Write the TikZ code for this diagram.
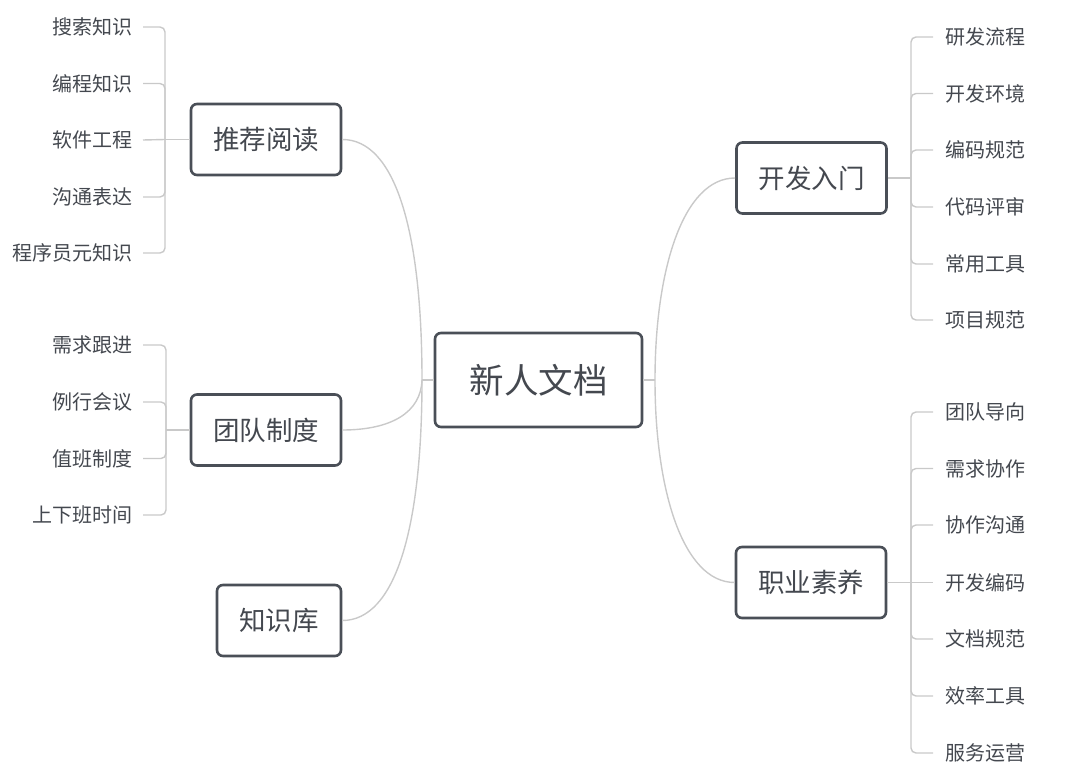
\documentclass[tikz,border=0pt]{standalone}
\usepackage{fontspec}
\newfontfamily\cjk{Noto Sans CJK SC}
\definecolor{boxline}{HTML}{4A4F57}
\definecolor{txt}{HTML}{44484F}
\definecolor{conn}{HTML}{C9C9C9}
\begin{document}
\begin{tikzpicture}[x=1pt,y=-1pt,
  box/.style={draw=boxline,line width=2.6pt,rounded corners=6pt,fill=white,text=txt,inner sep=0pt,
    font=\cjk\fontsize{26.5}{26.5}\selectfont,minimum width=150pt,minimum height=71pt},
  mainbox/.style={box,font=\cjk\fontsize{34.5}{34.5}\selectfont,minimum width=207pt,minimum height=94pt},
  leafl/.style={anchor=east,inner sep=0pt,text=txt,font=\cjk\fontsize{20}{20}\selectfont},
  leafr/.style={anchor=west,inner sep=0pt,text=txt,font=\cjk\fontsize{20}{20}\selectfont},
  link/.style={draw=conn,line width=1.4pt},
  tick/.style={link,rounded corners=5pt}]
\useasboundingbox (0,0) rectangle (1080,783);

% main and branch nodes
\node[mainbox] (main) at (538.5,380) {新人文档};
\node[box] (read) at (266,139.5) {推荐阅读};
\node[box] (team) at (266,430) {团队制度};
\node[box,minimum width=124pt] (kb) at (279,620.5) {知识库};
\node[box] (intro) at (811.5,178) {开发入门};
\node[box] (pro) at (811,582.5) {职业素养};

% junctions
\coordinate (jl) at (422,380);
\coordinate (jr) at (655,380);
\draw[link] (main.west) -- (jl);
\draw[link] (main.east) -- (jr);
\draw[link] (read.east) .. controls (395,139.5) and (422,230) .. (jl);
\draw[link] (team.east) .. controls (392,430) and (421,412) .. (jl);
\draw[link] (kb.east) .. controls (395,620.5) and (422,530) .. (jl);
\draw[link] (intro.east -| intro.west) .. controls (683,178) and (655,270) .. (jr);
\draw[link] (pro.west) .. controls (683,582.5) and (655,490) .. (jr);

% leaves: 推荐阅读
\node[leafl] (a1) at (133,27) {搜索知识};
\node[leafl] (a2) at (133,83.5) {编程知识};
\node[leafl] (a3) at (133,140) {软件工程};
\node[leafl] (a4) at (133,197) {沟通表达};
\node[leafl] (a5) at (133,253) {程序员元知识};
\coordinate (ja) at (165,139.5);
\draw[link] (read.west) -- (ja);
\foreach \n in {a1,a2,a4,a5} \draw[tick] (ja) |- ([xshift=10pt]\n.east);
\draw[link] (ja) -- ([xshift=10pt]a3.east);

% leaves: 团队制度
\node[leafl] (b1) at (133,345) {需求跟进};
\node[leafl] (b2) at (133,402) {例行会议};
\node[leafl] (b3) at (133,458.5) {值班制度};
\node[leafl] (b4) at (133,515) {上下班时间};
\coordinate (jb) at (166,430);
\draw[link] (team.west) -- (jb);
\foreach \n in {b1,b2,b3,b4} \draw[tick] (jb) |- ([xshift=10pt]\n.east);

% leaves: 开发入门
\node[leafr] (c1) at (945,37) {研发流程};
\node[leafr] (c2) at (945,93.5) {开发环境};
\node[leafr] (c3) at (945,150) {编码规范};
\node[leafr] (c4) at (945,207) {代码评审};
\node[leafr] (c5) at (945,264) {常用工具};
\node[leafr] (c6) at (945,320) {项目规范};
\coordinate (jc) at (911,178);
\draw[link] (intro.east) -- (jc);
\foreach \n in {c1,c2,c3,c4,c5,c6} \draw[tick] (jc) |- ([xshift=-12pt]\n.west);

% leaves: 职业素养
\node[leafr] (d1) at (945,412) {团队导向};
\node[leafr] (d2) at (945,468.5) {需求协作};
\node[leafr] (d3) at (945,525) {协作沟通};
\node[leafr] (d4) at (945,582.5) {开发编码};
\node[leafr] (d5) at (945,639) {文档规范};
\node[leafr] (d6) at (945,696) {效率工具};
\node[leafr] (d7) at (945,753) {服务运营};
\coordinate (jd) at (911,582.5);
\draw[link] (pro.east) -- (jd);
\foreach \n in {d1,d2,d3,d5,d6,d7} \draw[tick] (jd) |- ([xshift=-12pt]\n.west);
\draw[link] (jd) -- ([xshift=-12pt]d4.west);
\end{tikzpicture}
\end{document}
